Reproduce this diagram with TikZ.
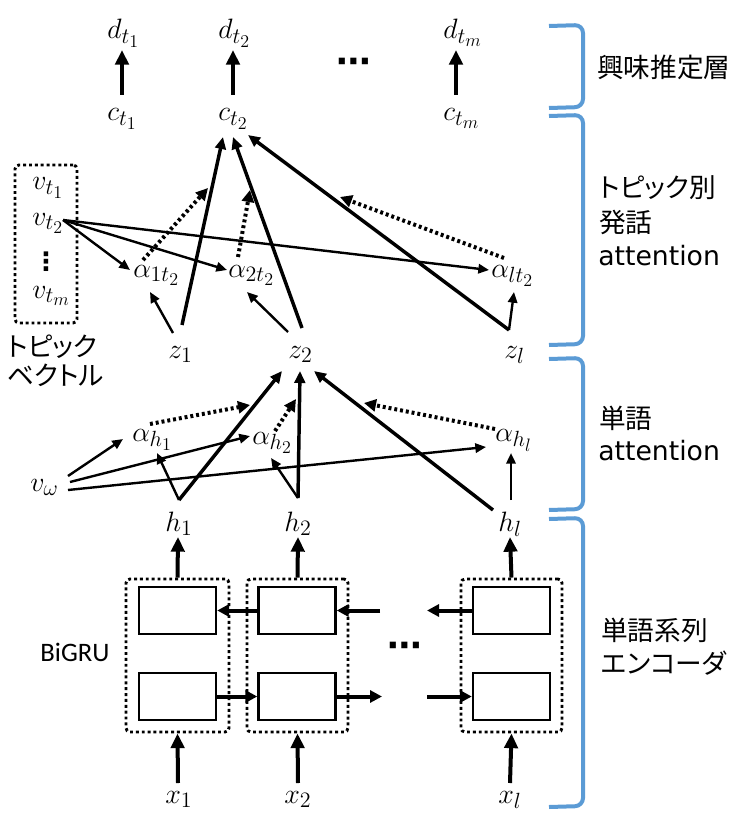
\RequirePackage{fix-cm}
\documentclass[tikz,border=0pt]{standalone}
\usepackage{fontspec}
\usetikzlibrary{arrows.meta}
\newfontfamily\jpfont[RawFeature=+palt]{Noto Sans CJK JP}
\newfontfamily\dvfont{DejaVu Sans}
\newfontfamily\crlfont{Carlito}
\definecolor{brkblue}{RGB}{91,155,213}
\DeclareMathSizes{21}{21}{16.5}{13.5}
\begin{document}
\begin{tikzpicture}[x=0.75pt,y=-0.75pt,
  m/.style={inner sep=0pt, anchor=base west, font=\fontsize{21}{24}\selectfont},
  jp/.style={inner sep=0pt, anchor=west, font=\jpfont\fontsize{20}{24}\selectfont},
  en/.style={inner sep=0pt, anchor=west, font=\dvfont\fontsize{20}{24}\selectfont},
  bigarr/.style={line width=3pt, -{Triangle[length=11pt,width=10pt]}},
  zarr/.style={line width=2.6pt, -{Triangle[length=9pt,width=8pt]}},
  thinarr/.style={line width=1.8pt, -{Triangle[length=8pt,width=7pt]}},
  dotarr/.style={line width=3pt, dash pattern=on 2.2pt off 2.2pt, -{Triangle[length=9pt,width=9pt]}},
  harr/.style={line width=3pt, -{Triangle[length=9pt,width=9pt]}},
  gbox/.style={draw, line width=2.2pt, dash pattern=on 2.2pt off 2.2pt, rounded corners=3pt, inner sep=0pt},
  cell/.style={draw, line width=1.8pt, inner sep=0pt, minimum width=77*0.75pt, minimum height=47*0.75pt},
  brk/.style={draw=brkblue, line width=3pt, rounded corners=6pt},
  dotsn/.style={inner sep=0pt, font=\dvfont\bfseries\fontsize{26}{28}\selectfont}
]
\useasboundingbox (0,0) rectangle (738,813);

% ---------- brackets ----------
\draw[brk] (549,26) -- (583,25) -- (583,107) -- (549,108);
\draw[brk] (549,116) -- (583,115) -- (583,344) -- (549,345);
\draw[brk] (549,359) -- (583,358) -- (583,509) -- (549,510);
\draw[brk] (549,519) -- (583,518) -- (583,806) -- (549,807);

% ---------- right labels ----------
\node[jp] (L1) at (597,67) {興味推定層};
\node[jp] (L2a) at (599,188) {トピック別};
\node[jp] (L2b) at (599,222) {発話};
\node[en] (L2c) at (598,256) {attention};
\node[jp] (L3a) at (599,418) {単語};
\node[en] (L3b) at (598,451) {attention};
\node[jp] (L4a) at (601,630) {単語系列};
\node[jp] (L4b) at (601,663) {エンコーダ};

% ---------- top: d and c ----------
\node[m] (d1) at (107,39) {$d_{t_1}$};
\node[m] (d2) at (218,39) {$d_{t_2}$};
\node[m] (dm) at (443,39) {$d_{t_m}$};
\node[m] (c1) at (107,121) {$c_{t_1}$};
\node[m] (c2) at (218,121) {$c_{t_2}$};
\node[m] (cm) at (443,121) {$c_{t_m}$};
\node[dotsn] (tdots) at (354,66) {⋯};
\draw[bigarr] ([shift={(15,-26)}]c1.base west) -- ([shift={(15,11)}]d1.base west);
\draw[bigarr] ([shift={(15,-26)}]c2.base west) -- ([shift={(15,11)}]d2.base west);
\draw[bigarr] ([shift={(13,-26)}]cm.base west) -- ([shift={(13,11)}]dm.base west);

% ---------- topic vectors ----------
\node[gbox, minimum width=62*0.75pt, minimum height=158*0.75pt] (vbox) at (46,244) {};
\node[m] (vt1) at (32,190) {$v_{t_1}$};
\node[m] (vt2) at (32,225) {$v_{t_2}$};
\node[dotsn, font=\dvfont\bfseries\fontsize{19}{20}\selectfont] (vdots) at (46,262) {⋮};
\node[m] (vtm) at (32,298) {$v_{t_m}$};
\node[jp, anchor=west] (tv1) at (7,347) {トピック};
\node[jp, anchor=west] (tv2) at (7,375) {ベクトル};

% ---------- topic attention ----------
\node[m] (a1) at (133,277) {$\alpha_{1t_2}$};
\node[m] (a2) at (228,277) {$\alpha_{2t_2}$};
\node[m] (al) at (491,277) {$\alpha_{lt_2}$};
\node[m] (z1) at (168,358) {$z_1$};
\node[m] (z2) at (288,358) {$z_2$};
\node[m] (zl) at (504,358) {$z_l$};

\draw[thinarr] ([shift={(31,-5)}]vt2.base west) -- ([shift={(-3,-7)}]a1.base west);
\draw[thinarr] ([shift={(31,-5)}]vt2.base west) -- ([shift={(-1,-7)}]a2.base west);
\draw[thinarr] ([shift={(31,-5)}]vt2.base west) -- ([shift={(-2,-7)}]al.base west);

\draw[thinarr] ([shift={(5,-25)}]z1.base west) -- ([shift={(17,15)}]a1.base west);
\draw[thinarr] ([shift={(0,-26)}]z2.base west) -- ([shift={(19,15)}]a2.base west);
\draw[thinarr] ([shift={(5,-28)}]zl.base west) -- ([shift={(23,15)}]al.base west);

\draw[zarr] ([shift={(14,-33)}]z1.base west) -- ([shift={(5,16)}]c2.base west);
\draw[zarr] ([shift={(14,-30)}]z2.base west) -- ([shift={(15,16)}]c2.base west);
\draw[zarr] ([shift={(5,-28)}]zl.base west) -- ([shift={(30,14)}]c2.base west);

\draw[dotarr] ([shift={(10,-17)}]a1.base west) -- ([shift={(75,-89)}]a1.base west);
\draw[dotarr] ([shift={(10,-20)}]a2.base west) -- ([shift={(22,-87)}]a2.base west);
\draw[dotarr] ([shift={(13,-19)}]al.base west) -- ([shift={(-151,-80)}]al.base west);

% ---------- word attention ----------
\node[m] (ah1) at (132,441) {$\alpha_{h_1}$};
\node[m] (ah2) at (252,444) {$\alpha_{h_2}$};
\node[m] (ahl) at (495,441) {$\alpha_{h_l}$};
\node[m] (vw) at (30,491) {$v_\omega$};
\node[m] (h1) at (165,531) {$h_1$};
\node[m] (h2) at (284,531) {$h_2$};
\node[m] (hl) at (498,531) {$h_l$};

\draw[thinarr] ([shift={(38,-15)}]vw.base west) -- ([shift={(-9,-2)}]ah1.base west);
\draw[thinarr] ([shift={(40,-9)}]vw.base west) -- ([shift={(-2,-8)}]ah2.base west);
\draw[thinarr] ([shift={(38,-1)}]vw.base west) -- ([shift={(-9,6)}]ahl.base west);

\draw[thinarr] ([shift={(14,-31)}]h1.base west) -- ([shift={(25,12)}]ah1.base west);
\draw[thinarr] ([shift={(14,-33)}]h2.base west) -- ([shift={(19,14)}]ah2.base west);
\draw[thinarr] ([shift={(13,-31)}]hl.base west) -- ([shift={(16,12)}]ahl.base west);

\draw[zarr] ([shift={(14,-31)}]h1.base west) -- ([shift={(-6,13)}]z2.base west);
\draw[zarr] ([shift={(14,-33)}]h2.base west) -- ([shift={(12,13)}]z2.base west);
\draw[zarr] ([shift={(-5,-21)}]hl.base west) -- ([shift={(26,13)}]z2.base west);

\draw[dotarr] ([shift={(18,-17)}]ah1.base west) -- ([shift={(118,-36)}]ah1.base west);
\draw[dotarr] ([shift={(23,-13)}]ah2.base west) -- ([shift={(44,-45)}]ah2.base west);
\draw[dotarr] ([shift={(0,-12)}]ahl.base west) -- ([shift={(-131,-38)}]ahl.base west);

% ---------- BiGRU ----------
\node[inner sep=0pt, font=\crlfont\fontsize{20}{24}\selectfont] (bigru) at (75,652) {BiGRU};
\node[gbox, minimum width=103*0.75pt, minimum height=153*0.75pt] (g1) at (177.5,655.5) {};
\node[gbox, minimum width=101*0.75pt, minimum height=153*0.75pt] (g2) at (297.5,655.5) {};
\node[gbox, minimum width=101*0.75pt, minimum height=153*0.75pt] (g3) at (511.5,655.5) {};
\node[cell] (r1u) at (177.5,610.5) {};
\node[cell] (r1l) at (177.5,696.5) {};
\node[cell] (r2u) at (297,610.5) {};
\node[cell] (r2l) at (297,696.5) {};
\node[cell] (r3u) at (511.5,610.5) {};
\node[cell] (r3l) at (511.5,696.5) {};
\node[dotsn] (bdots) at (405,650) {⋯};

\coordinate (pu1) at (380,610.5);
\coordinate (pu2) at (427,610.5);
\coordinate (pl1) at (382,696.5);
\coordinate (pl2) at (427,696.5);
\draw[harr] (r2u.west) -- (r1u.east);
\draw[harr] (pu1) -- (r2u.east);
\draw[harr] (r3u.west) -- (pu2);
\draw[harr] (r1l.east) -- (r2l.west);
\draw[harr] (r2l.east) -- (pl1);
\draw[harr] (pl2) -- (r3l.west);

\node[m] (x1) at (165,803) {$x_1$};
\node[m] (x2) at (284,803) {$x_2$};
\node[m] (xl) at (498,803) {$x_l$};

\draw[bigarr] (g1.north) -- ([shift={(13,6)}]h1.base west);
\draw[bigarr] (g2.north) -- ([shift={(14,6)}]h2.base west);
\draw[bigarr] (g3.north) -- ([shift={(12,6)}]hl.base west);
\draw[bigarr] ([shift={(13,-20)}]x1.base west) -- (g1.south);
\draw[bigarr] ([shift={(14,-20)}]x2.base west) -- (g2.south);
\draw[bigarr] ([shift={(12,-20)}]xl.base west) -- (g3.south);
\end{tikzpicture}
\end{document}
